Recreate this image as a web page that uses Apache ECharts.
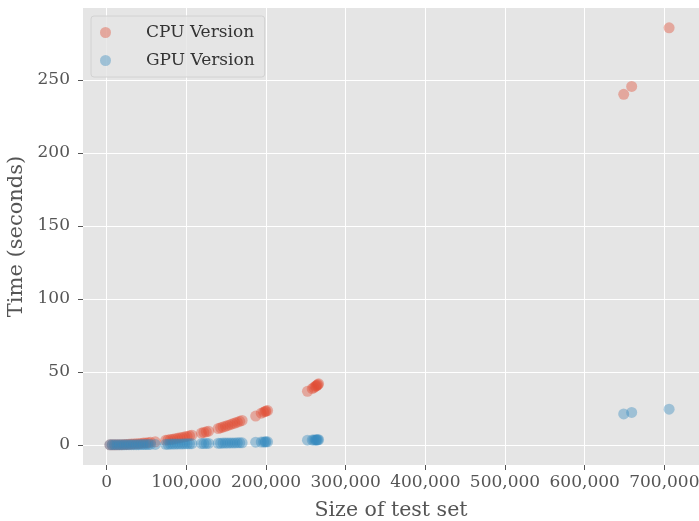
<!DOCTYPE html>
<html>
<head>
<meta charset="utf-8">
<title>CPU vs GPU timing</title>
<script src="https://cdn.jsdelivr.net/npm/echarts@6/dist/echarts.min.js"></script>
<style>
  html, body { margin: 0; padding: 0; background: #ffffff; }
  #chart { width: 699px; height: 521px; }
</style>
</head>
<body>
<div id="chart"></div>
<script>
// Size of each test set (number of samples)
const sizes = [
  4000, 7000, 10000, 13000, 16000, 19000, 22000, 25000, 28000, 31000, 34000, 37000,
  40000, 43000, 46000, 49000, 52000, 55000, 61000,
  74000, 77000, 80000, 83000, 86000, 89000, 92000, 95000, 98000, 101000, 104000, 107000,
  119000, 122000, 125000, 128000,
  140000, 143000, 146000, 149000, 152000, 155000, 158000, 161000, 164000, 167000, 170000,
  187000, 194000, 197000, 199000, 200000, 202000,
  252000, 258000, 260000, 262000, 263000, 264000, 265000, 266000,
  649000, 659000, 706000
];

// Run time of the CPU implementation (seconds)
const cpuSeconds = [
  0.1, 0.1, 0.1, 0.1, 0.2, 0.2, 0.3, 0.4, 0.5, 0.6, 0.7, 0.8,
  0.9, 1.1, 1.3, 1.4, 1.6, 1.8, 2.2,
  3.2, 3.5, 3.7, 4.0, 4.3, 4.6, 4.9, 5.2, 5.6, 5.9, 6.3, 6.7,
  8.2, 8.6, 9.0, 9.5,
  11.3, 11.8, 12.3, 12.8, 13.4, 13.9, 14.5, 15.0, 15.6, 16.2, 16.8,
  19.8, 21.8, 22.5, 23.0, 23.2, 23.6,
  36.8, 38.6, 39.3, 40.1, 40.5, 40.9, 41.4, 41.9,
  240.2, 245.6, 285.7
];

// Run time of the GPU implementation (seconds)
const gpuSeconds = [
  0.1, 0.1, 0.1, 0.1, 0.1, 0.1, 0.1, 0.2, 0.2, 0.2, 0.2, 0.2,
  0.2, 0.3, 0.3, 0.3, 0.3, 0.4, 0.4,
  0.5, 0.5, 0.6, 0.6, 0.6, 0.7, 0.7, 0.7, 0.8, 0.8, 0.8, 0.9,
  1.0, 1.0, 1.1, 1.1,
  1.2, 1.2, 1.3, 1.3, 1.3, 1.4, 1.4, 1.4, 1.5, 1.5, 1.5,
  1.9, 2.0, 2.1, 2.1, 2.2, 2.2,
  3.3, 3.4, 3.4, 3.5, 3.5, 3.5, 3.6, 3.6,
  21.3, 22.3, 24.5
];

const xTicks = [0, 100000, 200000, 300000, 400000, 500000, 600000, 700000];
const yTicks = [0, 50, 100, 150, 200, 250];

const seriesNames = ['CPU Version', 'GPU Version'];

const serif = 'DejaVu Serif';
const tickColor = '#555555';

const pairs = (ys) => sizes.map((x, i) => [x, ys[i]]);

const chart = echarts.init(document.getElementById('chart'), null, { renderer: 'canvas' });

chart.setOption({
  animation: false,
  backgroundColor: '#ffffff',
  grid: {
    left: 83, right: 0, top: 8, bottom: 56,
    outerBoundsMode: 'none',
    containLabel: false,
    show: true,
    backgroundColor: '#E5E5E5',
    borderWidth: 0
  },
  legend: {
    data: seriesNames,
    orient: 'vertical',
    left: 91, top: 16,
    padding: [8, 10, 8, 9],
    itemWidth: 11, itemHeight: 11,
    itemGap: 11,
    backgroundColor: 'rgba(229,229,229,0.8)',
    borderColor: '#d2d2d2',
    borderWidth: 1,
    borderRadius: 3,
    icon: 'circle',
    textStyle: {
      fontFamily: serif, fontSize: 17, color: '#333333',
      lineHeight: 15, padding: [0, 0, 0, 30]
    }
  },
  xAxis: {
    type: 'value',
    min: -29750, max: 743500,
    name: 'Size of test set',
    nameLocation: 'middle',
    nameGap: 35,
    nameTextStyle: { fontFamily: serif, fontSize: 20.5, color: tickColor },
    axisLine: { show: false, onZero: false },
    axisTick: { show: true, length: 5, lineStyle: { color: tickColor }, customValues: xTicks },
    axisLabel: {
      customValues: xTicks,
      margin: 9,
      fontFamily: serif, fontSize: 17, color: tickColor,
      formatter: (v) => Math.round(v).toLocaleString('en-US')
    },
    splitLine: { show: true, lineStyle: { color: '#ffffff', width: 1 } }
  },
  yAxis: {
    type: 'value',
    min: -13.7, max: 299.3,
    name: 'Time (seconds)',
    nameLocation: 'middle',
    nameGap: 56,
    nameTextStyle: { fontFamily: serif, fontSize: 21, color: tickColor },
    axisLine: { show: false, onZero: false },
    axisTick: { show: true, length: 5, lineStyle: { color: tickColor }, customValues: yTicks },
    axisLabel: {
      customValues: yTicks,
      margin: 13,
      fontFamily: serif, fontSize: 17, color: tickColor,
      formatter: (v) => String(Math.round(v))
    },
    splitLine: { show: true, lineStyle: { color: '#ffffff', width: 1 } }
  },
  series: [
    {
      name: seriesNames[0],
      type: 'scatter',
      symbol: 'circle',
      symbolSize: 11,
      itemStyle: { color: 'rgba(226,74,51,0.5)' },
      data: pairs(cpuSeconds),
      z: 2
    },
    {
      name: seriesNames[1],
      type: 'scatter',
      symbol: 'circle',
      symbolSize: 11,
      itemStyle: { color: 'rgba(52,138,189,0.5)' },
      data: pairs(gpuSeconds),
      z: 3
    }
  ]
});
</script>
</body>
</html>
